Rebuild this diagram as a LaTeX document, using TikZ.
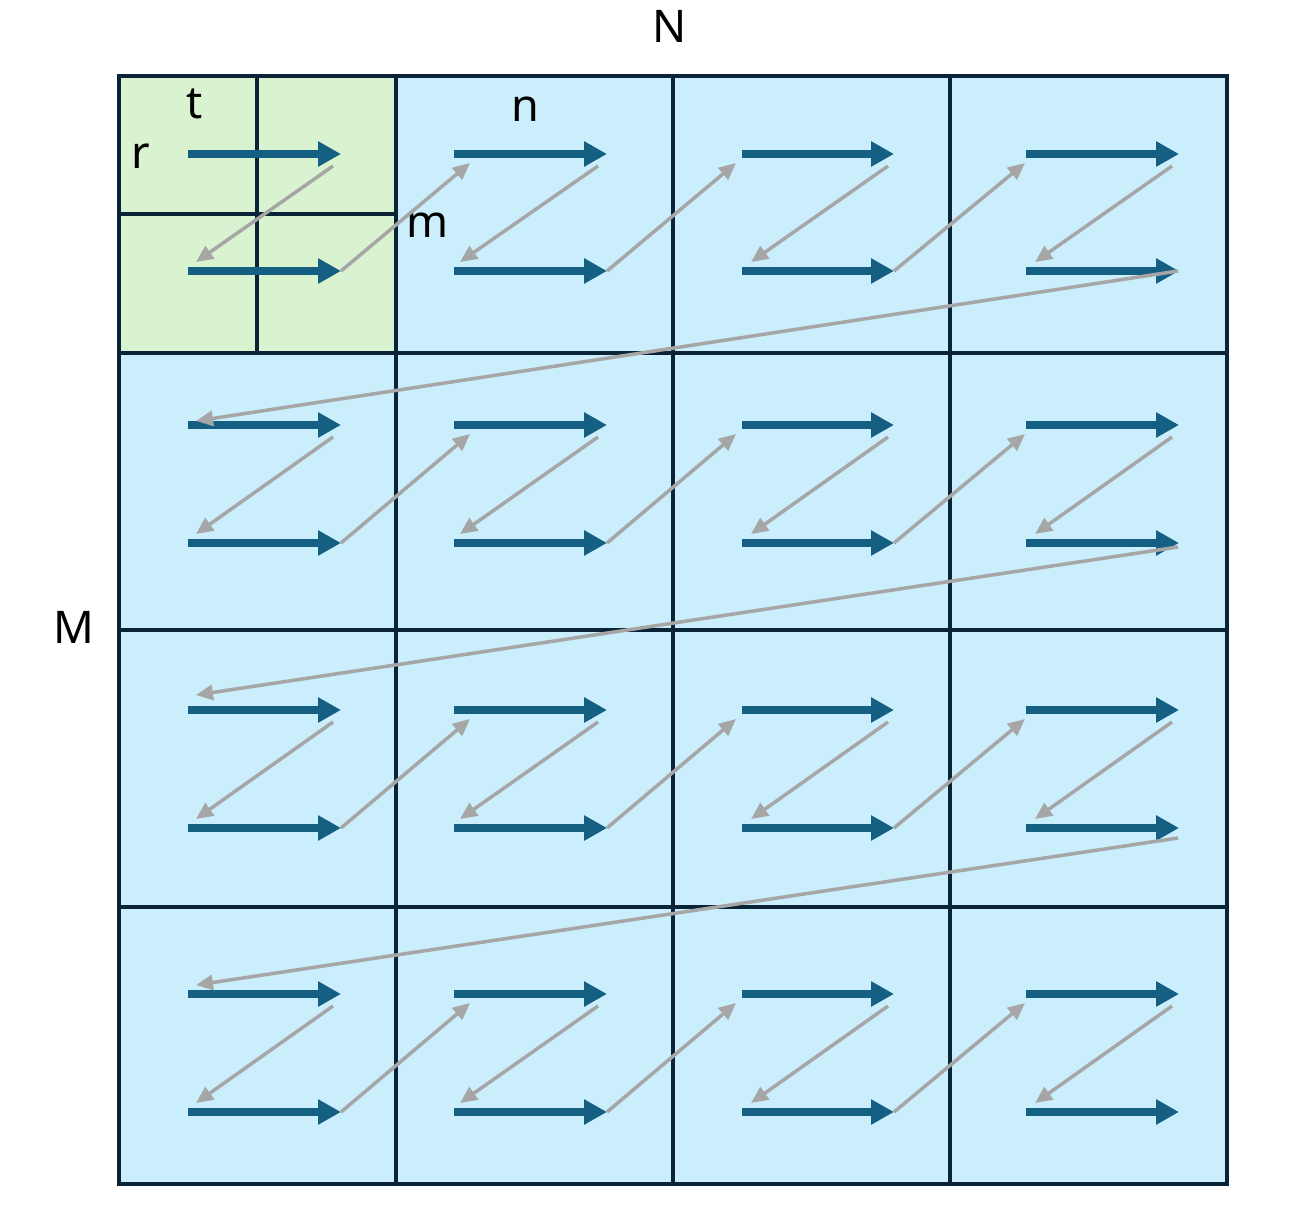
\documentclass[tikz,border=0pt]{standalone}
\usepackage{fontspec}
\setmainfont{Noto Sans}
\usetikzlibrary{arrows.meta,calc}
\definecolor{gridline}{HTML}{0B2336}
\definecolor{cellblue}{HTML}{CAEEFB}
\definecolor{cellgreen}{HTML}{D9F2D0}
\definecolor{arrowblue}{HTML}{156082}
\definecolor{arrowgray}{HTML}{A6A6A6}
\tikzset{
  gridstroke/.style={draw=gridline, line width=3.5pt, line cap=rect},
  bluearrow/.style={draw=arrowblue, line width=8pt, -{Triangle[length=23pt,width=24pt]}},
  grayarrow/.style={draw=arrowgray, line width=3.5pt, -{Triangle[length=17pt,width=15pt]}},
  lbl/.style={anchor=base, inner sep=0pt, font=\fontsize{45}{50}\selectfont, text=black}
}
\begin{document}
\begin{tikzpicture}[x=1pt,y=-1pt]
\useasboundingbox (0,0) rectangle (1311,1212);
% cells
\fill[cellblue] (119,76) rectangle (1227,1184);
\fill[cellgreen] (119,76) rectangle (396,353);
% grid
\foreach \x in {119,396,673,950,1227} \draw[gridstroke] (\x,76) -- (\x,1184);
\foreach \y in {76,353,630,907,1184} \draw[gridstroke] (119,\y) -- (1227,\y);
\draw[gridstroke] (257,76) -- (257,353);
\draw[gridstroke] (119,214) -- (396,214);
% labels
\node[lbl] (labN) at (670,43) {N};
\node[lbl] (labM) at (74,643) {M};
\node[lbl] (labt) at (195,118) {t};
\node[lbl] (labr) at (141,168) {r};
\node[lbl] (labn) at (525,122) {n};
\node[lbl] (labm) at (428,237) {m};
% coordinates and blue arrows
\foreach \r/\yt/\yb in {0/154/271, 1/425/543, 2/710/828, 3/994/1112}{
  \foreach \c/\xs/\xe/\zs/\zt/\gx in {0/188/341/333/196/0, 1/454/607/598/460/470, 2/742/894/888/751/736, 3/1026/1179/1172/1035/1025}{
    \coordinate (t-\r-\c-s) at (\xs,\yt);
    \coordinate (t-\r-\c-e) at (\xe,\yt);
    \coordinate (b-\r-\c-s) at (\xs,\yb);
    \coordinate (b-\r-\c-e) at (\xe,\yb);
    \coordinate (z-\r-\c-s) at (\zs,\yt+12);
    \coordinate (z-\r-\c-e) at (\zt,\yb-9);
    \coordinate (g-\r-\c) at (\gx,\yt+9);
    \draw[bluearrow] (t-\r-\c-s) -- (t-\r-\c-e);
    \draw[bluearrow] (b-\r-\c-s) -- (b-\r-\c-e);
  }
}
% gray arrows
\foreach \r in {0,1,2,3}{
  \foreach \c in {0,1,2,3}{
    \draw[grayarrow] (z-\r-\c-s) -- (z-\r-\c-e);
  }
  \foreach \p/\c in {0/1,1/2,2/3}{
    \draw[grayarrow] (b-\r-\p-e) -- (g-\r-\c);
  }
}
% row transitions
\coordinate (rs-0) at (1178,271);
\coordinate (rs-1) at (1178,547);
\coordinate (rs-2) at (1178,838);
\coordinate (re-1) at (196,421);
\coordinate (re-2) at (196,695);
\coordinate (re-3) at (196,985);
\draw[grayarrow] (rs-0) -- (re-1);
\draw[grayarrow] (rs-1) -- (re-2);
\draw[grayarrow] (rs-2) -- (re-3);
\end{tikzpicture}
\end{document}
